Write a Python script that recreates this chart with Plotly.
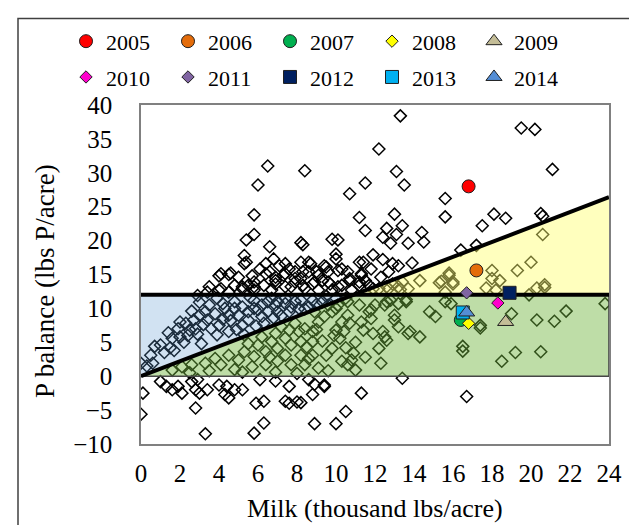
import plotly.graph_objects as go

# ---------------- data ----------------
milk_x = [
    6.5, 8.4, 6.0, 11.5, 10.7, 5.8, 11.2, 11.5, 5.4, 5.8, 6.6, 8.2, 8.3, 9.8, 10.1, 11.9, 12.2, 5.3, 5.4, 10.0,
    10.0, 11.2, 4.1, 4.6, 13.3, 19.5, 20.2, 21.1, 13.1, 13.5, 15.6, 15.6, 18.1, 18.7, 20.5, 20.6, 17.5, 13.0, 13.4, 12.6,
    13.1, 12.4, 12.8, 14.4, 14.5, 13.7, 12.4, 11.4, 12.9, 13.9, 16.4, 17.2,
    20.6, 20.0, 19.3, 18.0, 15.8, 15.4, 16.0, 14.3, 13.4, 12.9, 18.4, 18.0, 17.7, 19.9, 20.3, 20.7, 20.7, 15.6,
    13.3, 13.7, 12.7, 12.2, 18.2, 13.2, 12.6, 15.3, 15.8, 16.0,
    23.8, 15.9, 19.0, 20.3, 21.2, 21.8, 17.4, 17.4, 16.5, 16.5, 19.2, 18.5, 20.5, 16.7, 11.8, 11.8, 11.3, 13.0, 13.0, 13.6,
    13.6, 12.6, 13.2, 14.8, 15.1, 13.2, 13.7, 14.3, 12.5, 11.9, 11.4, 12.2, 12.3, 13.4, 11.3, 12.4, 12.6, 13.8, 12.8, 15.6,
    10.6, 11.2, 12.0, 12.5,
    8.4, 8.8, 8.2, 9.1, 9.4, 9.8, 10.0, 10.6, 10.3, 10.7, 10.0, 10.2, 9.8, 9.5, 9.1, 8.6, 8.8, 8.2, 10.3, 10.6,
    11.0, 10.8, 8.8, 11.7,
    8.6, 8.9, 9.4, 8.8, 10.5, 10.0, 8.9, 8.2, 0.0, 0.1, 0.0, 1.3, 1.6, 1.9, 2.1, 2.6, 2.9, 2.8, 3.0, 3.4,
    2.8, 3.3, 4.4, 4.3, 4.5, 5.2, 5.9, 6.3, 6.3, 5.8, 7.6, 7.6, 8.0, 6.9, 6.1, 1.0, 4.0, 4.8, 7.4, 9.4,
    4.0, 4.5, 5.0, 4.8, 5.5, 5.7, 6.1, 6.4, 6.8, 7.1, 6.6, 6.9, 7.4, 7.6, 8.2, 8.3, 7.9, 7.7, 5.8, 5.2,
    3.5, 4.0, 4.5, 6.7, 8.4, 13.2, 11.8, 11.3, 10.6, 10.1, 9.5, 9.0, 8.6, 8.2, 8.8, 9.3, 9.7, 10.3, 10.7, 11.5,
    12.3, 12.7, 11.9, 11.2, 9.1, 9.8, 10.8, 5.3, 7.4, 8.7, 9.4, 5.8, 6.4, 6.9, 7.3, 7.9, 8.6, 9.1, 9.6, 10.3,
    11.3, 4.1, 5.2, 5.8, 6.3, 6.9, 7.4, 7.9, 8.3, 8.9, 9.6, 10.1, 10.7, 11.2, 11.7, 3.4, 2.9,
    0.7, 1.0, 0.5, 0.6, 1.6, 2.0, 1.9, 2.3, 2.7, 3.0, 3.3, 2.8, 2.5, 3.4, 3.6, 4.0, 3.8, 4.3, 4.5, 4.8,
    5.2, 5.5, 5.8, 6.2, 6.5, 6.9, 7.4, 7.9, 8.2, 8.8, 9.3, 10.0, 10.5, 4.2, 4.8, 5.8, 6.7, 7.4, 5.2, 3.9,
    4.5, 5.5, 6.2, 6.5, 7.0, 7.6, 8.1, 8.6, 8.9, 9.6, 10.1, 5.3,
    1.2, 1.5, 2.2, 2.4, 2.9, 3.2, 3.5, 3.9, 4.6, 5.0, 5.6, 6.0, 6.3, 6.8, 7.2, 7.7, 8.4, 9.0, 9.5, 4.2,
    3.0, 2.6, 2.0, 1.4, 0.3, 1.7, 3.1, 4.9, 5.9, 7.0,
    1.6, 2.1, 2.6, 3.3, 3.8, 4.1, 4.5, 5.0, 5.3, 5.8, 6.0, 6.4, 6.7, 7.0, 7.4, 7.7, 8.1, 7.0, 6.4, 7.7,
    8.4, 5.7, 7.4, 7.9, 7.6, 6.9,
    2.5, 3.5, 4.8, 5.5, 6.2, 6.9, 8.0, 9.6, 9.9, 10.4, 9.0, 9.3, 10.5, 10.9, 11.5, 11.0, 8.5, 7.2, 6.6, 5.2,
]
pbal_y = [
    31.0, 30.3, 28.2, 28.5, 26.9, 23.8, 23.4, 21.5, 20.1, 20.9, 19.1, 19.7, 19.4, 20.2, 20.1, 17.9, 33.5, 17.8, 16.8, 18.0,
    17.3, 16.8, 15.1, 15.2, 38.4, 36.6, 36.4, 30.5, 30.2, 28.2, 26.2, 23.5, 23.9, 23.3, 24.0, 23.6, 22.2, 23.9, 22.2, 21.8,
    20.9, 20.5, 19.6, 21.2, 19.8, 19.6, 17.2, 16.8, 16.6, 16.7, 18.6, 19.3,
    20.9, 16.8, 15.6, 15.6, 14.9, 14.0, 13.9, 14.1, 13.9, 13.6, 14.1, 14.4, 13.0, 12.0, 13.0, 13.5, 13.1, 12.4,
    12.8, 12.9, 12.9, 12.9, 12.7, 13.2, 13.2, 13.8, 15.2, 13.6,
    10.7, 10.7, 9.2, 8.3, 8.1, 9.6, 7.5, 7.1, 4.4, 3.7, 3.5, 2.2, 3.6, -3.0, 9.8, 8.5, 8.0, 9.0, 8.3, 11.0,
    11.3, 11.0, 10.7, 9.5, 8.8, 7.3, 6.3, 5.8, 5.8, 6.3, 6.8, 4.1, 1.9, -0.3, -2.5, 6.6, 5.3, 6.6, 11.2, 11.0,
    11.0, 10.5, 10.5, 10.5,
    7.0, 6.6, 5.1, 8.0, 8.8, 9.5, 10.0, 9.0, 8.0, 7.8, 6.8, 5.6, 4.1, 3.1, 1.2, 2.6, 3.1, 3.1, 2.2, 1.7,
    0.9, 2.4, 5.1, 9.5,
    -0.5, -1.2, -1.5, -2.7, -5.2, -7.0, -7.0, -3.9, 1.9, -2.5, -5.6, -1.5, -2.0, -1.5, -2.5, -0.8, -0.5, -2.0, -2.5, -2.0,
    -4.7, -8.5, -1.5, -2.7, -3.2, -2.0, -4.0, -3.7, -6.9, -8.4, -1.5, -4.0, -3.8, -0.7, -0.5, -0.8, -1.3, -2.0, -3.7, -1.3,
    14.8, 15.0, 14.6, 13.4, 13.4, 14.8, 15.8, 16.6, 17.3, 16.3, 15.4, 14.1, 15.1, 15.8, 16.8, 15.4, 14.4, 13.2, 12.7, 13.2,
    13.2, 12.7, 12.4, 12.7, 12.9, 16.3, 15.8, 14.9, 15.4, 15.6, 16.1, 15.4, 16.8, 14.4, 13.6, 14.1, 13.6, 13.4, 14.4, 14.1,
    14.6, 15.4, 12.9, 13.4, 12.7, 12.7, 12.7, 16.6, 16.6, 16.6, 16.3, 13.9, 15.1, 14.6, 14.9, 15.4, 15.4, 14.9, 15.4, 15.8,
    15.1, 12.9, 12.9, 13.2, 13.4, 13.6, 13.2, 13.9, 13.4, 13.9, 13.9, 13.2, 14.1, 13.9, 13.4, 12.4, 11.9,
    4.4, 4.6, 3.1, 1.9, 5.6, 5.8, 7.0, 7.8, 8.3, 9.0, 9.5, 7.0, 6.8, 8.3, 7.0, 7.5, 9.2, 10.0, 9.0, 10.0,
    10.2, 9.5, 10.0, 10.5, 11.0, 10.5, 10.7, 11.0, 11.2, 11.2, 11.0, 11.5, 11.5, 10.7, 11.0, 11.2, 11.5, 11.5, 7.5, 6.1,
    6.6, 8.3, 8.8, 9.5, 9.5, 9.5, 10.0, 10.2, 9.5, 10.5, 10.5, 6.1,
    3.5, 4.2, 5.0, 6.0, 6.2, 7.6, 10.5, 11.5, 8.2, 9.0, 11.6, 9.8, 7.8, 8.6, 8.9, 10.2, 9.9, 10.6, 11.8, 8.4,
    10.9, 9.6, 8.0, 6.4, 1.5, 3.8, 4.8, 6.9, 7.4, 11.0,
    0.9, 1.4, 1.7, 1.9, 2.6, 1.7, 3.1, 2.4, 3.6, 2.9, 4.6, 3.6, 5.1, 4.1, 5.6, 4.6, 6.6, 2.2, 1.7, 1.7,
    1.7, 1.4, 3.1, 7.8, 6.8, 6.3,
    0.5, 0.8, 1.0, 4.8, 5.8, 0.6, 0.4, 0.8, 6.0, 6.6, 6.9, 5.2, 4.2, 3.4, 2.8, 5.0, 4.3, 7.3, 2.8, 0.6,
]

years = ["2005", "2006", "2007", "2008", "2009", "2010", "2011", "2012", "2013", "2014"]
year_x = [16.8, 17.2, 16.4, 16.8, 18.7, 18.3, 16.7, 18.9, 16.5, 16.7]
year_y = [28.0, 15.6, 8.3, 7.8, 8.0, 10.8, 12.3, 12.3, 9.4, 9.4]
year_colors = ["#FF0000", "#E46C0A", "#00B050", "#FFFF00", "#C4BD97",
               "#FF00CC", "#8064A2", "#002060", "#00B0F0", "#558ED5"]
year_symbols = ["circle", "circle", "circle", "diamond", "triangle-up",
                "diamond", "diamond", "square", "square", "triangle-up"]
year_sizes = [13, 13, 13, 9.5, 14, 9.5, 9.5, 13, 13, 14]

TARGET = 12.0      # horizontal reference (lbs P/acre)
SLOPE = 1.1        # P balance per thousand lbs milk
X_MAX = 24.0
x_cross = TARGET / SLOPE
y_end = SLOPE * X_MAX

FONT = "Liberation Serif, Times New Roman, serif"

fig = go.Figure()

# all farms (open diamonds)
fig.add_trace(go.Scatter(
    x=milk_x, y=pbal_y, mode="markers", showlegend=False, hoverinfo="skip",
    marker=dict(symbol="diamond-open", size=9.2, color="black", line=dict(width=1.5, color="black")),
))

# shaded zones (semi-transparent, over the points)
fig.add_trace(go.Scatter(
    x=[0, 0, x_cross, 0], y=[0, TARGET, TARGET, 0], mode="lines", fill="toself",
    fillcolor="rgba(90,150,210,0.28)", line=dict(width=0), showlegend=False, hoverinfo="skip"))
fig.add_trace(go.Scatter(
    x=[0, x_cross, X_MAX, X_MAX, 0], y=[0, TARGET, TARGET, 0, 0], mode="lines", fill="toself",
    fillcolor="rgba(110,180,60,0.45)", line=dict(width=1.6, color="rgb(70,70,70)"),
    showlegend=False, hoverinfo="skip"))
fig.add_trace(go.Scatter(
    x=[x_cross, X_MAX, X_MAX, x_cross], y=[TARGET, y_end, TARGET, TARGET], mode="lines", fill="toself",
    fillcolor="rgba(255,255,110,0.45)", line=dict(width=0), showlegend=False, hoverinfo="skip"))

# thick reference lines
fig.add_trace(go.Scatter(x=[0, X_MAX], y=[TARGET, TARGET], mode="lines",
                         line=dict(color="black", width=4), showlegend=False, hoverinfo="skip"))
fig.add_trace(go.Scatter(x=[0, X_MAX], y=[0, y_end], mode="lines",
                         line=dict(color="black", width=4), showlegend=False, hoverinfo="skip"))

# yearly averages
for i, yr in enumerate(years):
    fig.add_trace(go.Scatter(
        x=[year_x[i]], y=[year_y[i]], mode="markers", name=yr,
        legend="legend" if i < 5 else "legend2",
        marker=dict(symbol=year_symbols[i], size=year_sizes[i], color=year_colors[i],
                    line=dict(width=1, color="#202020")),
    ))

L, R, T, B = 133, 36, 95, 89
PW, PH = 637 - L - R, 525 - T - B


def px_x(p):
    return (p - L) / PW


def px_y(p):
    return (525 - B - p) / PH


legend_common = dict(orientation="h", font=dict(family=FONT, size=22, color="black"),
                     entrywidth=57, entrywidthmode="pixels", bgcolor="rgba(0,0,0,0)",
                     xanchor="left", yanchor="middle", itemclick=False, itemdoubleclick=False,
                     traceorder="normal")

fig.update_layout(
    width=637, height=525,
    margin=dict(l=L, r=R, t=T, b=B),
    paper_bgcolor="white", plot_bgcolor="white",
    font=dict(family=FONT, size=25, color="black"),
    legend=dict(x=px_x(58), y=px_y(31), **legend_common),
    legend2=dict(x=px_x(58), y=px_y(67), **legend_common),
    xaxis=dict(range=[0, 24], dtick=2, tick0=0, showgrid=False, zeroline=False,
               showline=True, linecolor="#808080", linewidth=1.5, mirror=True,
               ticks="", ticklabelstandoff=6,
               tickfont=dict(family=FONT, size=25, color="black")),
    yaxis=dict(range=[-10, 40], dtick=5, tick0=0, showgrid=False, zeroline=False,
               showline=True, linecolor="#808080", linewidth=1.5, mirror=True,
               ticks="", ticklabelstandoff=22,
               tickfont=dict(family=FONT, size=25, color="black")),
    annotations=[
        dict(text="Milk (thousand lbs/acre)", xref="paper", yref="paper",
             x=0.5, y=px_y(501), xanchor="center", yanchor="middle", showarrow=False,
             font=dict(family=FONT, size=26, color="black")),
        dict(text="P balance (lbs P/acre)", xref="paper", yref="paper",
             x=px_x(37), y=px_y(272), xanchor="center", yanchor="middle", showarrow=False,
             textangle=-90, font=dict(family=FONT, size=27, color="black")),
    ],
    shapes=[
        dict(type="rect", xref="paper", yref="paper", x0=px_x(10), x1=px_x(700),
             y0=px_y(600), y1=px_y(8), line=dict(color="#404040", width=1.5), layer="below"),
    ],
)

fig.write_html("out.html")
